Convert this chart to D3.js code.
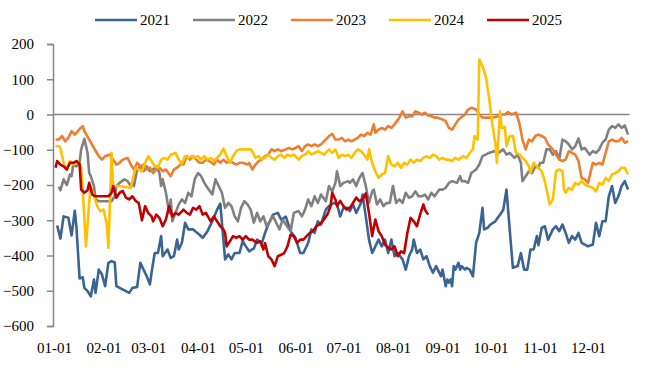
<!DOCTYPE html>
<html>
<head>
<meta charset="utf-8">
<script src="https://cdn.jsdelivr.net/npm/d3@7"></script>
<style>
  body { margin: 0; background: #fff; }
  text { font-family: "Liberation Serif", "Times New Roman", serif; }
</style>
</head>
<body>
<svg id="chart" width="647" height="368"></svg>
<script>
"use strict";

var years = ["2021", "2022", "2023", "2024", "2025"];
var colors = ["#3a6494", "#808080", "#ed7d31", "#ffc000", "#c00000"];
var y_ticks = [200, 100, 0, -100, -200, -300, -400, -500, -600];

// [day of year (0 = 01-01), value]
var s2021 = [[2,-315],[4,-352],[6,-289],[9,-293],[11,-343],[13,-273],[14,-317],[16,-465],[18,-462],[19,-492],
  [21,-501],[23,-516],[25,-468],[26,-506],[28,-440],[30,-454],[32,-487],[34,-421],[36,-416],[38,-420],[39,-487],
  [47,-506],[49,-492],[52,-489],[54,-421],[56,-440],[58,-459],[60,-482],[61,-449],[63,-393],[65,-393],[67,-345],
  [68,-402],[71,-383],[73,-407],[75,-402],[77,-355],[78,-383],[80,-364],[82,-307],[84,-326],[87,-326],[91,-341],
  [93,-350],[96,-331],[99,-303],[102,-270],[104,-253],[107,-411],[109,-397],[111,-411],[113,-393],[116,-393],
  [118,-359],[120,-374],[122,-388],[125,-380],[127,-355],[130,-365],[132,-336],[134,-312],[137,-284],[140,-279],
  [142,-298],[145,-290],[148,-331],[151,-350],[154,-393],[156,-393],[159,-364],[161,-326],[163,-336],[165,-303],
  [167,-312],[170,-270],[172,-260],[175,-251],[177,-255],[179,-289],[181,-265],[184,-265],[185,-274],[187,-255],
  [189,-279],[192,-251],[193,-227],[195,-289],[197,-355],[199,-393],[201,-374],[203,-355],[205,-374],[207,-355],
  [209,-393],[211,-355],[213,-402],[215,-393],[218,-411],[220,-440],[222,-402],[224,-383],[225,-355],[227,-393],
  [229,-383],[231,-411],[233,-402],[235,-430],[237,-449],[239,-430],[242,-459],[243,-440],[245,-487],[246,-468],
  [247,-477],[248,-468],[249,-487],[250,-430],[251,-440],[253,-421],[254,-440],[255,-430],[257,-440],[258,-435],
  [260,-440],[262,-459],[264,-364],[266,-336],[268,-265],[269,-326],[271,-322],[273,-312],[276,-303],[279,-284],
  [281,-270],[283,-213],[285,-326],[287,-435],[290,-430],[292,-393],[294,-440],[296,-440],[298,-383],[300,-383],
  [302,-345],[303,-371],[305,-322],[307,-317],[309,-355],[312,-326],[314,-317],[316,-331],[318,-312],[320,-336],
  [322,-364],[324,-345],[326,-355],[328,-336],[330,-364],[332,-369],[334,-374],[337,-369],[339,-307],[341,-345],
  [343,-303],[345,-303],[347,-232],[349,-203],[351,-251],[353,-232],[355,-203],[357,-189],[359,-213]];

var s2022 = [[3,-205],[4,-215],[6,-184],[8,-200],[10,-170],[11,-175],[12,-142],[14,-147],[16,-137],[17,-99],
  [19,-69],[21,-109],[22,-166],[23,-175],[25,-203],[26,-241],[28,-246],[33,-246],[36,-246],[38,-232],[39,-203],
  [41,-194],[44,-184],[46,-189],[48,-203],[49,-194],[50,-203],[52,-156],[54,-147],[56,-161],[58,-147],[60,-161],
  [62,-156],[64,-147],[66,-166],[67,-203],[68,-184],[70,-222],[72,-279],[73,-241],[74,-303],[76,-279],[78,-255],
  [80,-241],[82,-251],[84,-222],[86,-232],[88,-184],[90,-166],[92,-175],[94,-194],[96,-208],[99,-227],[101,-184],
  [103,-203],[105,-222],[107,-265],[109,-251],[111,-260],[113,-289],[115,-303],[117,-265],[119,-246],[121,-255],
  [123,-270],[125,-307],[127,-279],[129,-303],[131,-289],[133,-317],[135,-303],[137,-289],[139,-307],[141,-326],
  [143,-298],[145,-312],[148,-331],[150,-279],[153,-274],[155,-289],[157,-270],[159,-241],[161,-260],[163,-232],
  [165,-251],[167,-227],[170,-246],[172,-203],[174,-218],[176,-194],[177,-161],[179,-203],[181,-194],[184,-189],
  [185,-194],[187,-184],[189,-203],[191,-180],[193,-166],[195,-203],[197,-251],[199,-218],[200,-213],[202,-255],
  [204,-241],[206,-260],[208,-251],[210,-251],[212,-203],[214,-251],[216,-241],[218,-251],[220,-222],[222,-236],
  [224,-232],[226,-218],[228,-232],[230,-232],[232,-227],[234,-241],[236,-222],[238,-232],[241,-213],[243,-213],
  [245,-208],[247,-194],[249,-189],[252,-194],[254,-175],[255,-189],[257,-189],[259,-194],[261,-166],[264,-156],
  [266,-142],[268,-118],[270,-114],[272,-109],[275,-104],[278,-109],[281,-99],[283,-114],[285,-109],[288,-123],
  [290,-114],[292,-137],[293,-189],[295,-175],[297,-161],[299,-166],[301,-147],[303,-151],[304,-137],[306,-137],
  [308,-99],[310,-99],[312,-114],[314,-104],[316,-128],[318,-71],[320,-76],[322,-85],[324,-99],[326,-90],
  [328,-68],[330,-99],[332,-95],[335,-114],[337,-104],[339,-109],[341,-99],[343,-80],[345,-71],[347,-43],
  [349,-33],[351,-38],[353,-28],[355,-38],[357,-31],[359,-57]];

var s2023 = [[1,-71],[3,-71],[5,-61],[7,-76],[9,-66],[11,-47],[13,-57],[15,-47],[16,-41],[18,-33],[19,-47],
  [22,-71],[25,-95],[28,-118],[30,-128],[32,-118],[35,-114],[37,-128],[39,-142],[41,-137],[43,-128],[46,-123],
  [48,-142],[50,-156],[52,-137],[54,-147],[56,-142],[58,-156],[60,-151],[62,-166],[64,-156],[66,-151],[68,-161],
  [70,-156],[73,-175],[75,-156],[77,-151],[79,-142],[81,-142],[83,-118],[85,-128],[87,-118],[89,-128],[91,-137],
  [93,-137],[95,-128],[97,-132],[100,-142],[102,-128],[104,-137],[106,-128],[108,-137],[110,-132],[112,-137],
  [114,-142],[116,-137],[118,-137],[121,-142],[122,-137],[124,-156],[126,-142],[128,-132],[130,-128],[132,-118],
  [134,-114],[136,-99],[138,-104],[140,-99],[142,-104],[145,-99],[147,-95],[149,-99],[151,-95],[153,-90],
  [155,-104],[157,-90],[159,-85],[161,-90],[163,-85],[165,-90],[167,-85],[170,-71],[172,-61],[174,-55],[176,-71],
  [178,-71],[180,-66],[182,-76],[184,-71],[186,-76],[188,-71],[190,-66],[192,-57],[194,-61],[196,-52],[198,-57],
  [200,-28],[201,-52],[203,-43],[205,-38],[207,-43],[209,-33],[211,-38],[213,-28],[216,-9],[218,9],[220,-9],
  [222,-5],[224,-5],[226,9],[228,5],[230,0],[232,5],[234,-3],[236,-5],[238,-9],[240,-9],[243,-14],[245,-19],
  [247,-38],[249,-43],[251,-28],[253,-14],[255,-7],[257,0],[259,14],[261,19],[264,14],[266,0],[268,-9],[271,-9],
  [274,-9],[278,-5],[280,0],[282,0],[284,7],[286,0],[289,5],[291,-24],[293,-71],[295,-99],[297,-71],[299,-76],
  [301,-61],[303,-57],[305,-61],[307,-66],[309,-85],[312,-99],[314,-114],[316,-128],[318,-132],[320,-128],
  [322,-104],[324,-109],[326,-114],[328,-132],[330,-180],[332,-184],[334,-194],[337,-137],[339,-142],[341,-137],
  [343,-142],[345,-109],[347,-76],[349,-71],[351,-76],[353,-76],[355,-66],[357,-80],[359,-76]];

var s2024 = [[1,-90],[3,-90],[4,-95],[6,-137],[8,-156],[10,-132],[12,-142],[14,-137],[16,-137],[17,-151],
  [18,-217],[20,-374],[22,-250],[23,-205],[25,-230],[27,-260],[29,-274],[31,-270],[33,-310],[34,-378],[35,-250],
  [36,-109],[37,-203],[40,-203],[44,-205],[48,-208],[50,-170],[51,-151],[53,-156],[55,-161],[57,-137],[59,-118],
  [61,-132],[63,-147],[65,-150],[67,-128],[69,-123],[71,-128],[73,-114],[76,-109],[78,-128],[80,-140],[82,-118],
  [84,-123],[86,-118],[88,-123],[90,-118],[92,-128],[94,-118],[96,-128],[98,-123],[100,-132],[102,-123],
  [104,-113],[106,-97],[108,-118],[110,-137],[112,-118],[114,-104],[116,-99],[120,-99],[123,-99],[124,-104],
  [126,-123],[128,-118],[130,-128],[132,-123],[134,-114],[136,-123],[138,-128],[140,-118],[142,-114],[144,-123],
  [146,-114],[148,-118],[150,-114],[153,-128],[155,-118],[157,-114],[159,-104],[161,-114],[163,-109],[165,-104],
  [167,-109],[169,-114],[172,-99],[174,-109],[176,-99],[178,-123],[180,-114],[182,-118],[184,-114],[186,-123],
  [188,-109],[190,-99],[192,-104],[194,-114],[196,-128],[197,-99],[199,-137],[201,-161],[203,-180],[205,-170],
  [207,-166],[209,-118],[211,-142],[213,-147],[215,-137],[217,-151],[219,-137],[221,-142],[223,-128],[225,-137],
  [227,-128],[229,-132],[231,-123],[233,-118],[235,-123],[237,-114],[239,-118],[241,-128],[243,-123],[245,-128],
  [247,-128],[249,-132],[251,-123],[253,-128],[256,-118],[258,-123],[260,-109],[262,-99],[263,-61],[265,-71],
  [266,156],[268,137],[270,109],[272,52],[274,-24],[276,-80],[277,-137],[279,9],[280,-38],[282,-35],[283,-90],
  [285,-61],[287,-61],[289,-109],[291,-113],[293,-123],[295,-132],[297,-147],[298,-166],[300,-137],[301,-142],
  [303,-151],[305,-161],[307,-190],[309,-232],[310,-255],[312,-241],[314,-161],[316,-156],[318,-161],[319,-213],
  [320,-222],[322,-208],[324,-213],[326,-194],[328,-199],[330,-189],[332,-199],[334,-203],[337,-208],[339,-218],
  [341,-194],[343,-199],[345,-180],[347,-189],[349,-170],[351,-166],[353,-161],[355,-151],[357,-151],[359,-170]];

var s2025 = [[1,-151],[2,-132],[4,-142],[6,-147],[8,-156],[10,-137],[12,-137],[14,-132],[16,-140],[17,-213],
  [19,-222],[21,-215],[22,-194],[24,-227],[26,-232],[30,-232],[34,-232],[36,-222],[37,-203],[39,-236],[41,-222],
  [43,-217],[45,-236],[47,-241],[49,-232],[51,-245],[53,-251],[55,-300],[57,-260],[59,-280],[61,-289],[62,-303],
  [64,-284],[66,-294],[68,-317],[70,-298],[72,-260],[74,-289],[76,-279],[78,-284],[81,-270],[83,-279],[85,-284],
  [87,-265],[89,-270],[91,-260],[93,-284],[95,-279],[98,-303],[100,-289],[102,-303],[104,-317],[106,-326],
  [107,-336],[108,-374],[110,-360],[112,-345],[114,-350],[116,-345],[118,-355],[120,-345],[122,-355],[124,-355],
  [127,-364],[129,-360],[131,-383],[132,-365],[134,-402],[136,-411],[138,-430],[140,-402],[142,-398],[144,-393],
  [146,-374],[148,-341],[150,-345],[152,-364],[154,-355],[156,-355],[158,-345],[160,-336],[162,-331],[164,-317],
  [166,-312],[168,-303],[171,-284],[173,-260],[174,-222],[176,-241],[177,-260],[179,-245],[181,-260],[183,-270],
  [185,-265],[187,-251],[189,-236],[191,-246],[193,-241],[195,-224],[197,-279],[199,-345],[201,-298],[203,-331],
  [205,-345],[207,-369],[209,-378],[211,-383],[213,-374],[215,-402],[217,-388],[219,-393],[221,-336],[223,-293],
  [225,-303],[227,-317],[229,-284],[231,-255],[232,-270],[234,-284]];

var series = [s2021, s2022, s2023, s2024, s2025];

function draw() {
  var d3 = window.d3;
  var svg = d3.select('#chart');

  var jan1 = new Date(2021, 0, 1);
  var day_to_date = function(day) { return d3.timeDay.offset(jan1, day); };

  var x = d3.scaleTime()
      .domain([jan1, new Date(2021, 11, 31)])
      .range([54, 636]);
  var y = d3.scaleLinear().domain([-600, 200]).range([326, 44]);

  // y axis
  var axis_y = svg.append('g')
      .attr('transform', 'translate(53, 0)')
      .call(d3.axisLeft(y).tickValues(y_ticks).tickSize(6).tickSizeOuter(6).tickPadding(13));
  axis_y.select('.domain').attr('stroke', '#868686').attr('stroke-width', 1.5);
  axis_y.selectAll('.tick line').attr('stroke', '#868686').attr('stroke-width', 1.5);
  axis_y.selectAll('text')
      .attr('font-family', '"Liberation Serif", serif')
      .attr('font-size', 15).attr('fill', '#000');

  // zero line
  svg.append('line')
      .attr('x1', 53).attr('x2', x(day_to_date(360)))
      .attr('y1', y(0)).attr('y2', y(0))
      .attr('stroke', '#868686').attr('stroke-width', 1.5);

  // month labels
  var axis_x = svg.append('g')
      .attr('transform', 'translate(0, 339)')
      .call(d3.axisBottom(x).ticks(d3.timeMonth.every(1)).tickFormat(d3.timeFormat('%m-%d')).tickSize(0));
  axis_x.select('.domain').remove();
  axis_x.selectAll('text')
      .attr('font-family', '"Liberation Serif", serif')
      .attr('font-size', 15).attr('fill', '#000');

  var line = d3.line()
      .x(function(d) { return x(day_to_date(d[0])); })
      .y(function(d) { return y(d[1]); });

  svg.append('g').selectAll('path')
      .data(series).enter()
      .append('path')
        .attr('d', line)
        .attr('fill', 'none')
        .attr('stroke', function(d, i) { return colors[i]; })
        .attr('stroke-width', 2.6)
        .attr('stroke-linejoin', 'round');

  // legend
  var legend = svg.append('g').attr('transform', 'translate(95, 20)');
  var item = legend.selectAll('g')
      .data(years).enter()
      .append('g')
        .attr('transform', function(d, i) { return 'translate(' + (i * 98) + ', 0)'; });
  item.append('line')
      .attr('x1', 0).attr('x2', 42)
      .attr('stroke', function(d, i) { return colors[i]; })
      .attr('stroke-width', 2.6);
  item.append('text')
      .attr('x', 45).attr('dy', '0.35em')
      .attr('font-size', 15)
      .text(function(d) { return d; });
}

draw();
</script>
</body>
</html>
